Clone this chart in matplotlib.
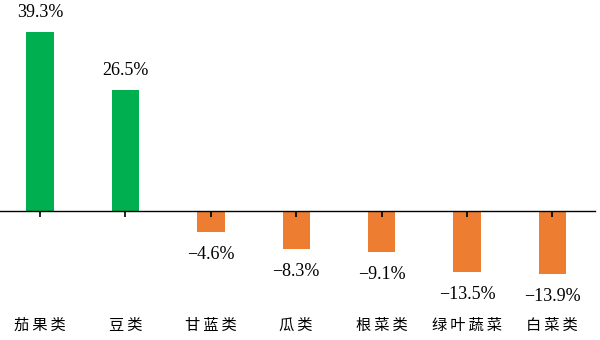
import matplotlib
matplotlib.use("Agg")
import matplotlib.pyplot as plt
from matplotlib.transforms import blended_transform_factory

categories = ["茄果类", "豆类", "甘蓝类", "瓜类", "根菜类", "绿叶蔬菜", "白菜类"]
values = [39.3, 26.5, -4.6, -8.3, -9.1, -13.5, -13.9]

plt.rcParams['font.family'] = ['Liberation Serif', 'Noto Sans CJK SC', 'DejaVu Sans']

fig = plt.figure(figsize=(6, 3.4), dpi=100)
ax = fig.add_axes([0, 40/340, 595/600, 300/340])

x = list(range(len(categories)))
colors = ['#00B050' if v >= 0 else '#ED7D31' for v in values]
ax.bar(x, values, width=0.32, color=colors)

ax.set_xlim(-0.47, 6.5)
ax.set_ylim(-(300-211)/4.555, 211/4.555)

for s in ['top', 'right', 'left']:
    ax.spines[s].set_visible(False)
ax.spines['bottom'].set_position(('data', 0))
ax.spines['bottom'].set_linewidth(1.0)
ax.set_yticks([])
ax.set_xticks(x)
ax.tick_params(axis='x', direction='out', length=4, width=1.2, labelbottom=False)

for xi, v in zip(x, values):
    txt = f"{v:.1f}%".replace('-', '\u2212')
    if v >= 0:
        ax.annotate(txt, (xi, v), xytext=(0, 14), textcoords='offset points',
                    ha='center', va='center', fontsize=13)
    else:
        ax.annotate(txt, (xi, v), xytext=(0, -16), textcoords='offset points',
                    ha='center', va='center', fontsize=13)

trans = blended_transform_factory(ax.transData, fig.transFigure)
for xi, c in zip(x, categories):
    ax.text(xi, 1 - 325/340, "\u2009".join(c), transform=trans, ha='center', va='center',
            fontsize=11, family=['Noto Sans CJK SC', 'DejaVu Sans'])

fig.savefig("out.png", dpi=100)
